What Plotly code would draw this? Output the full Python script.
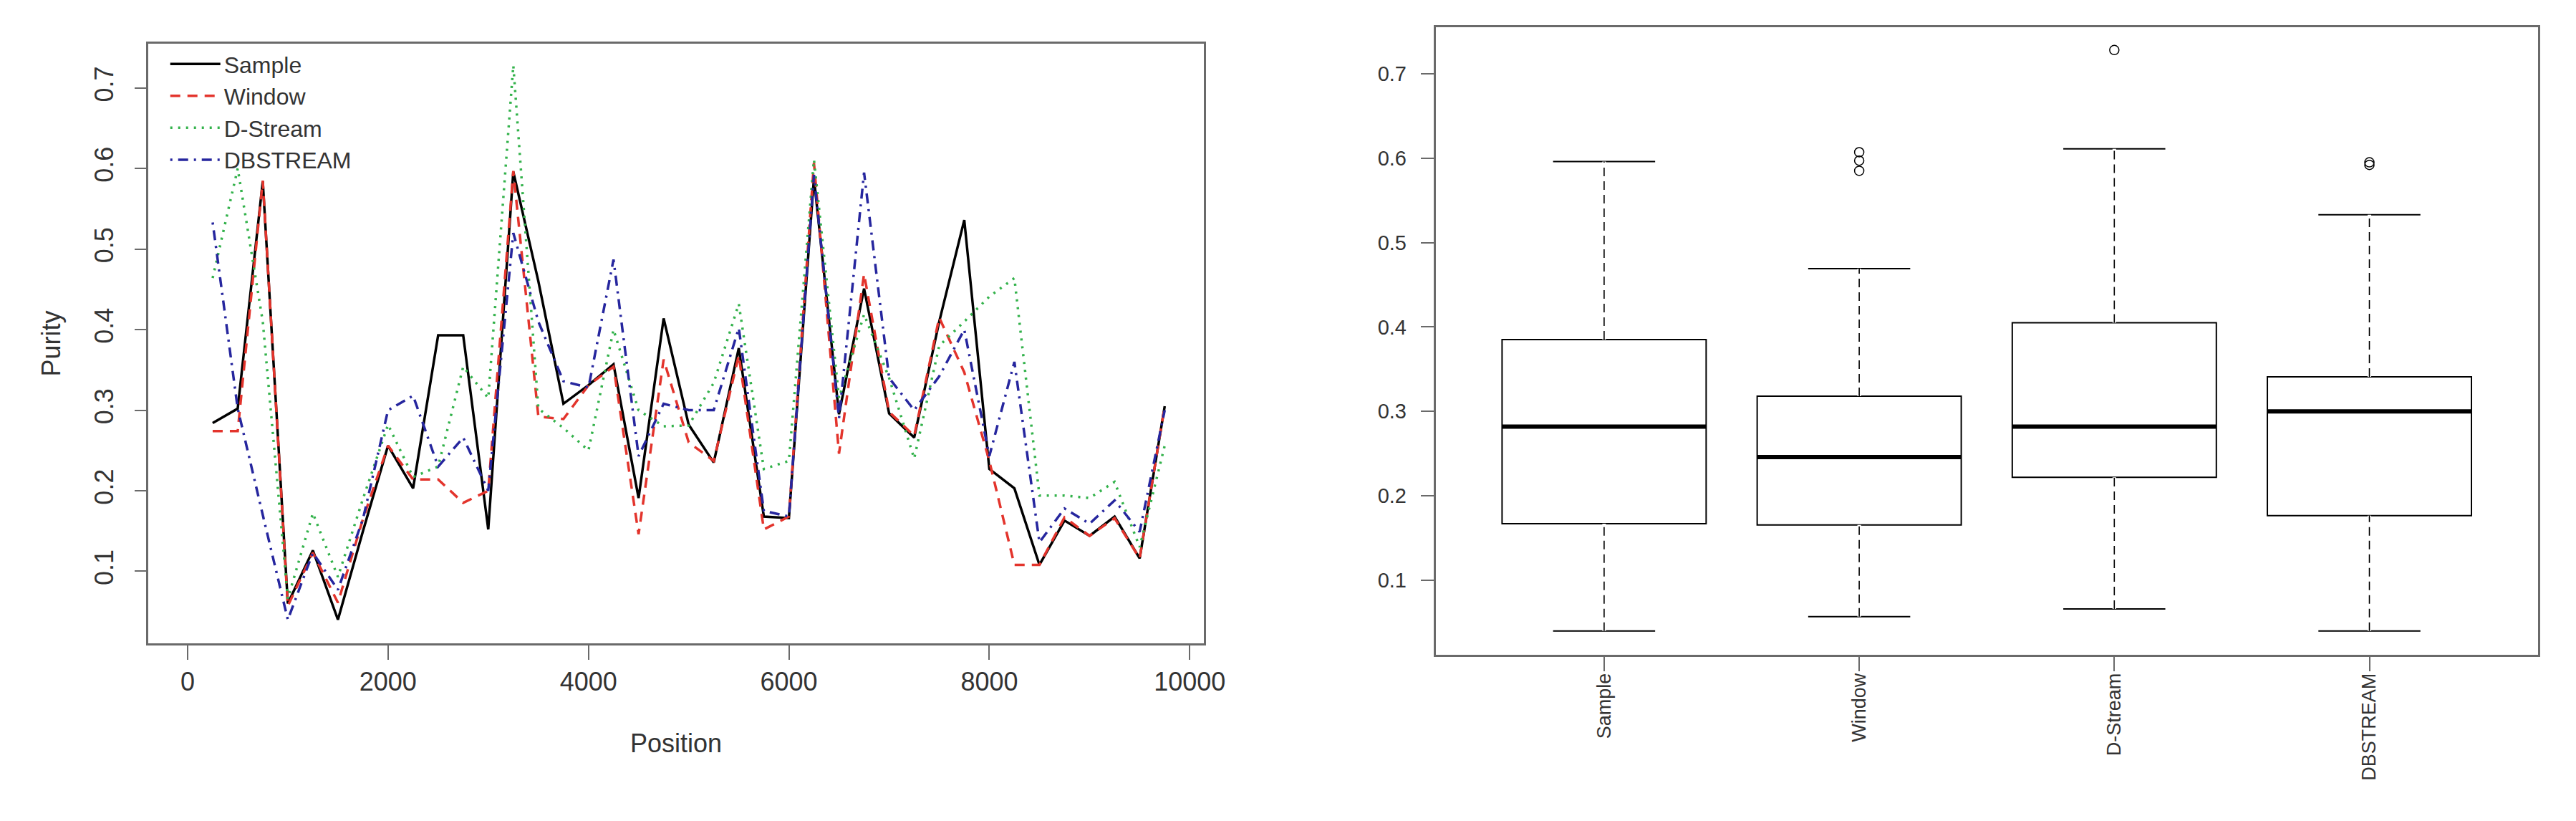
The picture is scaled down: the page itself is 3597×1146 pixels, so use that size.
import numpy as np
import plotly.graph_objects as go

# purity at each position
positions = [250, 500, 750, 1000, 1250, 1500, 1750, 2000, 2250, 2500,
             2750, 3000, 3250, 3500, 3750, 4000, 4250, 4500, 4750, 5000,
             5250, 5500, 5750, 6000, 6250, 6500, 6750, 7000, 7250, 7500,
             7750, 8000, 8250, 8500, 8750, 9000, 9250, 9500, 9750]

sample = [0.284, 0.302, 0.584, 0.060, 0.126, 0.040, 0.150, 0.256, 0.203, 0.393,
          0.393, 0.152, 0.596, 0.460, 0.308, 0.331, 0.357, 0.191, 0.414, 0.282,
          0.235, 0.377, 0.168, 0.166, 0.588, 0.295, 0.451, 0.296, 0.266, 0.410,
          0.536, 0.227, 0.203, 0.108, 0.163, 0.144, 0.168, 0.116, 0.305]

window = [0.274, 0.274, 0.585, 0.057, 0.123, 0.061, 0.165, 0.256, 0.214, 0.214,
          0.185, 0.200, 0.597, 0.292, 0.289, 0.331, 0.354, 0.146, 0.363, 0.260,
          0.237, 0.368, 0.152, 0.168, 0.607, 0.246, 0.469, 0.298, 0.268, 0.415,
          0.347, 0.237, 0.108, 0.108, 0.167, 0.144, 0.166, 0.116, 0.305]

dstream = [0.464, 0.600, 0.410, 0.066, 0.172, 0.093, 0.190, 0.282, 0.217, 0.230,
           0.354, 0.315, 0.728, 0.302, 0.278, 0.250, 0.400, 0.300, 0.280, 0.281,
           0.334, 0.432, 0.227, 0.237, 0.611, 0.315, 0.419, 0.340, 0.240, 0.380,
           0.410, 0.441, 0.464, 0.194, 0.194, 0.191, 0.211, 0.130, 0.256]

dbstream = [0.533, 0.302, 0.170, 0.040, 0.123, 0.077, 0.165, 0.300, 0.318, 0.230,
            0.266, 0.200, 0.520, 0.410, 0.336, 0.328, 0.487, 0.243, 0.308, 0.300,
            0.300, 0.402, 0.175, 0.168, 0.592, 0.290, 0.595, 0.340, 0.300, 0.342,
            0.400, 0.243, 0.360, 0.136, 0.178, 0.159, 0.188, 0.149, 0.300]

names = ["Sample", "Window", "D-Stream", "DBSTREAM"]
series = [sample, window, dstream, dbstream]
colors = ["#000000", "#E3342C", "#33B24B", "#26269E"]
dashes = ["solid", "14px,10px", "3px,8px", "3px,8px,14px,8px"]

x_ticks = [0, 2000, 4000, 6000, 8000, 10000]
y_ticks = [0.1, 0.2, 0.3, 0.4, 0.5, 0.6, 0.7]

FONT = "Liberation Sans, Arial, sans-serif"
TXT = "#333333"
FRAME = "#6a6a6a"


def tukey(vals):
    # R-style five number summary (same as plotly 'inclusive' quartiles)
    v = np.sort(np.asarray(vals))
    n = len(v)
    half = (n + 1) // 2
    q1 = np.median(v[:half])
    q3 = np.median(v[n - half:])
    med = np.median(v)
    iqr = q3 - q1
    lo = v[v >= q1 - 1.5 * iqr].min()
    hi = v[v <= q3 + 1.5 * iqr].max()
    return q1, med, q3, lo, hi


fig = go.Figure()

# left panel: purity along the stream
for name, vals, col, dash in zip(names, series, colors, dashes):
    fig.add_trace(go.Scatter(
        x=positions, y=vals, name=name, mode="lines",
        line=dict(color=col, width=3.5, dash=dash),
        xaxis="x", yaxis="y", showlegend=True))

# right panel: box plots
for i, (name, vals) in enumerate(zip(names, series), start=1):
    fig.add_trace(go.Box(
        y=vals, x=[i] * len(vals), name=name, width=0.8,
        quartilemethod="inclusive", boxpoints="outliers",
        whiskerwidth=0.5, fillcolor="white",
        line=dict(color="black", width=2),
        marker=dict(symbol="circle-open", size=13, color="black",
                    line=dict(width=1.5)),
        xaxis="x2", yaxis="y2", showlegend=False, hoverinfo="skip"))

    q1, med, q3, lo, hi = tukey(vals)
    # dashed whisker stems like R
    for a, b in [(q3, hi), (lo, q1)]:
        fig.add_trace(go.Scatter(
            x=[i, i], y=[a, b], mode="lines",
            line=dict(color="white", width=5),
            xaxis="x2", yaxis="y2", showlegend=False, hoverinfo="skip"))
        fig.add_trace(go.Scatter(
            x=[i, i], y=[a, b], mode="lines",
            line=dict(color="black", width=1.6, dash="12px,7px"),
            xaxis="x2", yaxis="y2", showlegend=False, hoverinfo="skip"))
    # thick median bar
    fig.add_trace(go.Scatter(
        x=[i - 0.4, i + 0.4], y=[med, med], mode="lines",
        line=dict(color="black", width=6),
        xaxis="x2", yaxis="y2", showlegend=False, hoverinfo="skip"))

axis_common = dict(showgrid=False, zeroline=False, showline=True, mirror=True,
                   linecolor=FRAME, linewidth=3, ticks="outside",
                   tickcolor=FRAME, tickwidth=2)

fig.update_layout(
    width=3597, height=1146,
    margin=dict(l=0, r=0, t=0, b=0),
    paper_bgcolor="white", plot_bgcolor="white",
    font=dict(family=FONT, color=TXT),
    xaxis=dict(domain=[0.0559, 0.469], range=[-390, 10140],
               tickvals=x_ticks, ticktext=[str(t) for t in x_ticks],
               ticklen=20, ticklabelstandoff=0,
               tickfont=dict(size=36, color=TXT), **axis_common),
    yaxis=dict(domain=[0.2234, 0.9538], range=[0.0106, 0.755],
               tickvals=y_ticks,
               tickangle=-90, ticklen=16, ticklabelstandoff=16,
               tickfont=dict(size=36, color=TXT), anchor="x", **axis_common),
    xaxis2=dict(domain=[0.5598, 0.9912], range=[0.34, 4.66],
                tickvals=[1, 2, 3, 4], ticktext=names, tickangle=-90,
                ticklen=20, ticklabelstandoff=-8,
                tickfont=dict(size=27, color=TXT), anchor="y2", **axis_common),
    yaxis2=dict(domain=[0.2094, 0.9738], range=[0.0117, 0.755],
                tickvals=y_ticks,
                ticklen=18, ticklabelstandoff=14,
                tickfont=dict(size=29, color=TXT), anchor="x2", **axis_common),
    legend=dict(x=0.063, y=0.953, xanchor="left", yanchor="top",
                bgcolor="rgba(0,0,0,0)", font=dict(size=32, color=TXT),
                itemwidth=70, tracegroupgap=0),
    annotations=[
        dict(text="Position", x=0.2624, y=0.102, xref="paper", yref="paper",
             xanchor="center", yanchor="middle",
             showarrow=False, font=dict(size=36, color=TXT)),
        dict(text="Purity", x=0.0178, y=0.589, xref="paper", yref="paper",
             xanchor="center", yanchor="middle",
             textangle=-90, showarrow=False, font=dict(size=36, color=TXT)),
    ],
)

fig.write_html("out.html")
